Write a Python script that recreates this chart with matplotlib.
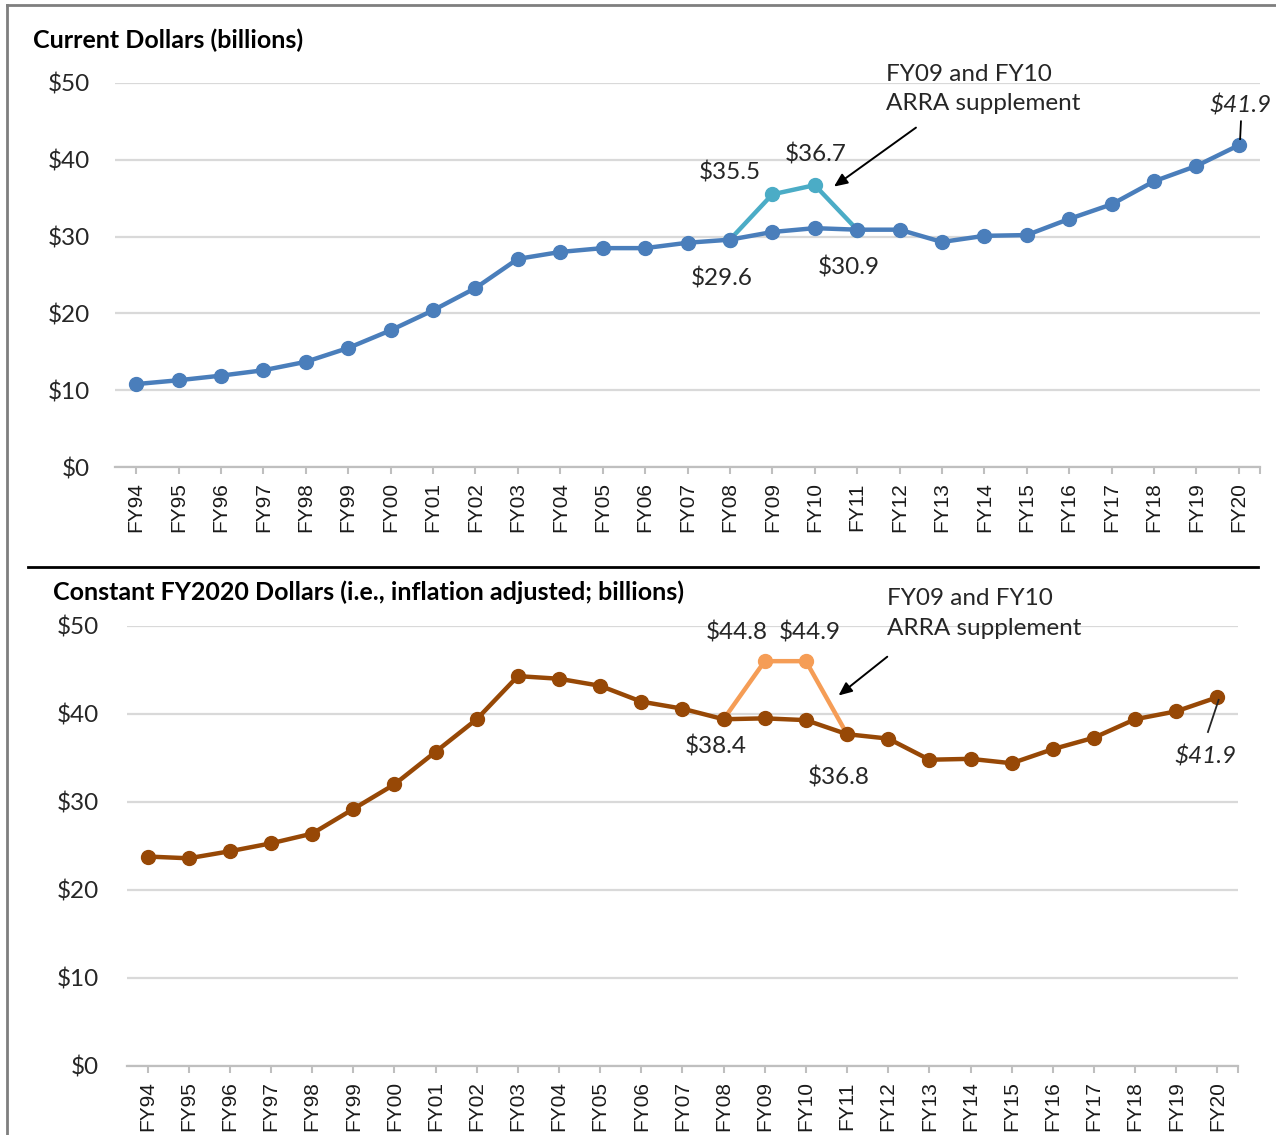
import numpy as np
import matplotlib.pyplot as plt
from matplotlib.lines import Line2D

# Fiscal years
years = ['FY94', 'FY95', 'FY96', 'FY97', 'FY98', 'FY99', 'FY00', 'FY01', 'FY02',
         'FY03', 'FY04', 'FY05', 'FY06', 'FY07', 'FY08', 'FY09', 'FY10', 'FY11',
         'FY12', 'FY13', 'FY14', 'FY15', 'FY16', 'FY17', 'FY18', 'FY19', 'FY20']

# Current dollars (billions)
current = [10.8, 11.3, 11.9, 12.6, 13.7, 15.5, 17.8, 20.4, 23.3, 27.1, 28.0, 28.5,
           28.5, 29.2, 29.6, 30.6, 31.1, 30.9, 30.9, 29.3, 30.1, 30.2, 32.3, 34.2,
           37.2, 39.2, 41.9]
# ARRA supplement segment FY08-FY11
arra_years = ['FY08', 'FY09', 'FY10', 'FY11']
arra_current = [29.6, 35.5, 36.7, 30.9]

# Constant FY2020 dollars (billions)
constant = [23.8, 23.6, 24.4, 25.3, 26.4, 29.2, 32.0, 35.7, 39.4, 44.3, 44.0, 43.2,
            41.4, 40.6, 39.4, 39.5, 39.3, 37.7, 37.2, 34.8, 34.9, 34.4, 36.0, 37.3,
            39.4, 40.3, 41.9]
arra_constant = [39.4, 46.0, 46.0, 37.7]

yticks = [0, 10, 20, 30, 40, 50]
ytick_labels = ['$0', '$10', '$20', '$30', '$40', '$50']

plt.rcParams['font.family'] = ['Lato', 'DejaVu Sans']

fig = plt.figure(figsize=(12.76, 11.35), dpi=100)
x = np.arange(len(years))
xa = np.array([years.index(y) for y in arra_years])


def style_axis(ax, ypad):
    ax.set_xlim(-0.5, len(years) - 0.5)
    ax.set_ylim(0, 50)
    ax.set_yticks(yticks)
    ax.set_yticklabels(ytick_labels, fontsize=17.5, color='#262626')
    ax.tick_params(axis='y', length=0, pad=ypad)
    ax.set_xticks(x)
    ax.set_xticklabels(years, rotation=90, fontsize=15, family='Liberation Sans', color='#1a1a1a')
    ax.set_xticks([len(years) - 0.5], minor=True)
    ax.tick_params(axis='x', which='both', length=5, width=1.5, color='#BFBFBF', pad=6)
    ax.grid(axis='y', color='#D9D9D9', linewidth=1.6)
    ax.set_axisbelow(True)
    for s in ['top', 'right', 'left']:
        ax.spines[s].set_visible(False)
    ax.spines['bottom'].set_color('#BFBFBF')
    ax.spines['bottom'].set_linewidth(1.6)


# Top panel: current dollars
ax1 = fig.add_axes([0.0901, 0.5885, 0.8974, 0.3384])
style_axis(ax1, 18)
ax1.plot(xa, arra_current, color='#4BACC6', linewidth=3.2, marker='o', markersize=10, zorder=3)
ax1.plot(x, current, color='#4A7EBB', linewidth=3.2, marker='o', markersize=10, zorder=4)

lab = dict(fontsize=17.5, color='#262626', ha='center', va='center')
ax1.text(14.0, 38.3, '$35.5', **lab)
ax1.text(16.03, 40.75, '$36.7', **lab)
ax1.text(13.8, 24.5, '$29.6', **lab)
ax1.text(16.8, 26.0, '$30.9', **lab)
ax1.text(26.05, 47.1, '$41.9', style='italic', clip_on=False, **lab)
ax1.plot([26.05, 26.03], [45.0, 42.7], color='black', linewidth=1.3, zorder=5)
ax1.text(17.68, 49.2, 'FY09 and FY10\nARRA supplement', fontsize=17.5, color='#262626',
         ha='left', va='center', linespacing=1.5)
ax1.annotate('', xy=(16.4, 36.3), xytext=(18.44, 44.4),
             arrowprops=dict(arrowstyle='-|>,head_length=0.8,head_width=0.35',
                             color='black', linewidth=1.4))

# Bottom panel: constant FY2020 dollars
ax2 = fig.add_axes([0.0995, 0.0608, 0.8707, 0.3877])
style_axis(ax2, 20)
ax2.plot(xa, arra_constant, color='#F59D56', linewidth=3.2, marker='o', markersize=10, zorder=3)
ax2.plot(x, constant, color='#974806', linewidth=3.2, marker='o', markersize=10, zorder=4)

ax2.text(14.33, 49.3, '$44.8', **lab)
ax2.text(16.1, 49.3, '$44.9', **lab)
ax2.text(13.8, 36.25, '$38.4', **lab)
ax2.text(16.8, 32.8, '$36.8', **lab)
ax2.text(25.7, 35.2, '$41.9', style='italic', **lab)
ax2.plot([25.77, 26.03], [37.95, 41.6], color='#262626', linewidth=1.3, zorder=5)
ax2.text(17.96, 51.4, 'FY09 and FY10\nARRA supplement', fontsize=17.5, color='#262626',
         ha='left', va='center', linespacing=1.5)
ax2.annotate('', xy=(16.74, 41.9), xytext=(18.03, 46.7),
             arrowprops=dict(arrowstyle='-|>,head_length=0.8,head_width=0.35',
                             color='black', linewidth=1.4))

# Panel titles
fig.text(33 / 1276, 1 - 40 / 1135, 'Current Dollars (billions)', fontsize=18,
         fontweight='bold', ha='left', va='center', color='black')
fig.text(53 / 1276, 1 - 592 / 1135, 'Constant FY2020 Dollars (i.e., inflation adjusted; billions)',
         fontsize=18, fontweight='bold', ha='left', va='center', color='black')

# Outer frame and separator
fig.add_artist(Line2D([7 / 1276, 1], [1 - 5 / 1135, 1 - 5 / 1135], color='#7F7F7F', linewidth=2))
fig.add_artist(Line2D([7 / 1276, 7 / 1276], [0, 1 - 5 / 1135], color='#7F7F7F', linewidth=2))
fig.add_artist(Line2D([28 / 1276, 1258 / 1276], [1 - 567 / 1135, 1 - 567 / 1135],
                      color='black', linewidth=2))

fig.savefig('out.png', dpi=100)
